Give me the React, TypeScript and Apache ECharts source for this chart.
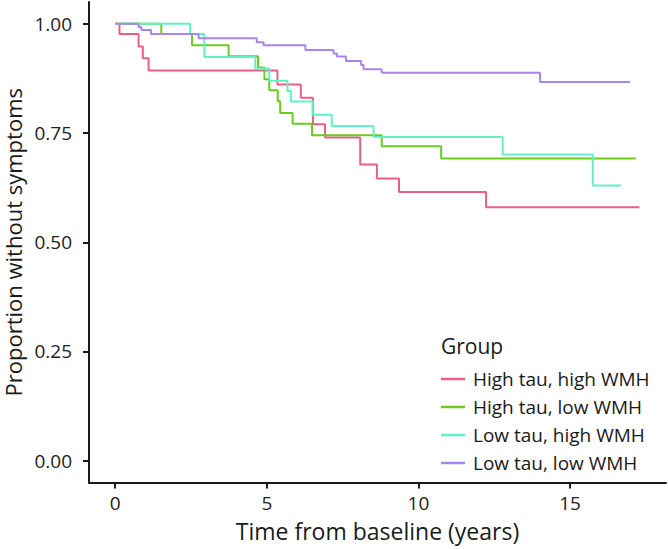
import React, { useEffect, useRef } from "react";
import * as echarts from "echarts";

const groupNames = [
  "High tau, high WMH",
  "High tau, low WMH",
  "Low tau, high WMH",
  "Low tau, low WMH",
];
const groupColors = ["#EA5F83", "#6ACC1E", "#62F0C6", "#A986EC"];

const redTimes = [0, 0.14, 0.77, 0.91, 1.1, 5.35, 6.12, 6.52, 6.92, 8.08, 8.63, 9.36, 12.23, 17.29];
const redValues = [1, 0.977, 0.948, 0.921, 0.893, 0.861, 0.831, 0.77, 0.74, 0.678, 0.646, 0.615, 0.58, 0.58];

const greenTimes = [0, 1.52, 2.53, 3.74, 4.71, 4.92, 5.08, 5.36, 5.44, 5.85, 6.49, 8.79, 10.75, 17.17];
const greenValues = [1, 0.977, 0.951, 0.926, 0.9, 0.873, 0.848, 0.823, 0.796, 0.771, 0.745, 0.72, 0.692, 0.692];

const tealTimes = [0, 2.47, 2.94, 4.62, 5.08, 5.68, 5.79, 6.51, 7.14, 8.52, 12.78, 15.75, 16.68];
const tealValues = [1, 0.977, 0.924, 0.898, 0.87, 0.846, 0.822, 0.792, 0.766, 0.741, 0.701, 0.63, 0.63];

const purpleTimes = [0, 0.77, 0.86, 1.18, 2.75, 4.67, 4.89, 6.27, 7.2, 7.31, 7.61, 8.11, 8.19, 8.79, 14.01, 16.98];
const purpleValues = [1, 0.993, 0.986, 0.977, 0.967, 0.958, 0.951, 0.94, 0.932, 0.925, 0.915, 0.906, 0.896, 0.888, 0.867, 0.867];

const xTicks = [0, 5, 10, 15];
const yTicks = [0, 0.25, 0.5, 0.75, 1];

const allTimes = [redTimes, greenTimes, tealTimes, purpleTimes];
const allValues = [redValues, greenValues, tealValues, purpleValues];

const FONT = "'Open Sans', 'Noto Sans', sans-serif";
const INK = "#1a1a1a";

export default function App() {
  const ref = useRef<HTMLDivElement>(null);
  useEffect(() => {
    if (!ref.current) return;
    const chart = echarts.init(ref.current, undefined, { renderer: "svg" });
    const series = groupNames.map((name, i) => ({
      name,
      type: "line",
      step: "end",
      showSymbol: false,
      symbol: "none",
      data: allTimes[i].map((t, j) => [t, allValues[i][j]]),
      lineStyle: { color: groupColors[i], width: 2 },
      itemStyle: { color: groupColors[i] },
      emphasis: { disabled: true },
    }));
    chart.setOption({
      animation: false,
      backgroundColor: "#ffffff",
      textStyle: { fontFamily: FONT },
      grid: {
        left: 89,
        right: 2,
        top: 2,
        bottom: 66.5,
        containLabel: false,
        outerBoundsMode: "none",
      },
      xAxis: {
        type: "value",
        min: -0.865,
        max: 18.165,
        name: "Time from baseline (years)",
        nameLocation: "middle",
        nameGap: 37,
        nameTextStyle: { fontSize: 23, color: INK, fontFamily: FONT },
        axisLine: { show: true, onZero: false, lineStyle: { color: INK, width: 2 } },
        axisTick: { show: true, customValues: xTicks, length: 6, lineStyle: { color: INK, width: 2 } },
        axisLabel: { customValues: xTicks, fontSize: 19, color: "#222", margin: 11, fontFamily: FONT },
        splitLine: { show: false },
      },
      yAxis: {
        type: "value",
        min: -0.05,
        max: 1.05,
        name: "Proportion without symptoms",
        nameLocation: "middle",
        nameGap: 62,
        nameTextStyle: { fontSize: 22, color: INK, fontFamily: FONT },
        axisLine: { show: true, onZero: false, lineStyle: { color: INK, width: 2 } },
        axisTick: { show: true, customValues: yTicks, length: 6, lineStyle: { color: INK, width: 2 } },
        axisLabel: {
          customValues: yTicks,
          fontSize: 19,
          color: "#222",
          margin: 17,
          fontFamily: FONT,
          formatter: (v: number) => v.toFixed(2),
        },
        splitLine: { show: false },
      },
      legend: {
        data: groupNames,
        orient: "vertical",
        left: 441,
        top: 369,
        padding: 0,
        icon: "rect",
        itemWidth: 24,
        itemHeight: 2.5,
        itemGap: 8,
        textStyle: {
          fontSize: 19,
          color: INK,
          fontFamily: FONT,
          lineHeight: 20,
          padding: [0, 0, 0, 3],
        },
        selectedMode: false,
      },
      graphic: [
        {
          type: "text",
          left: 441,
          top: 335,
          style: { text: "Group", fontSize: 21, fill: INK, fontFamily: FONT },
        },
      ],
      series,
    });
    return () => chart.dispose();
  }, []);
  return <div ref={ref} style={{ width: 668, height: 549, position: "absolute", left: 0, top: 0 }} />;
}
